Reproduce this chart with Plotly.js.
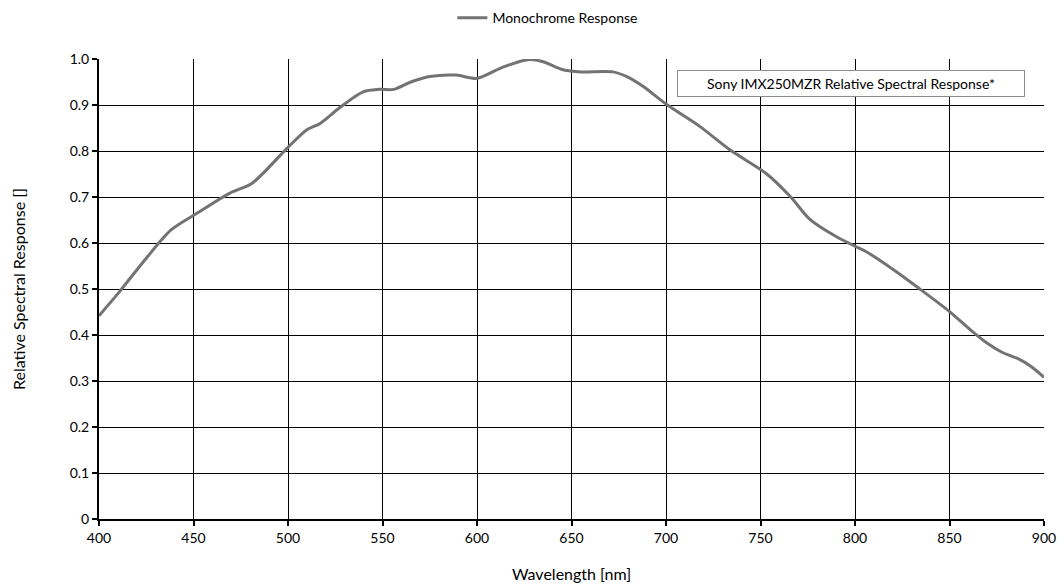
<!DOCTYPE html>
<html><head><meta charset="utf-8">
<script src="https://cdn.plot.ly/plotly-3.0.1.min.js"></script>
<style>html,body{margin:0;padding:0;background:#fff}#c{width:1062px;height:584px}</style>
</head><body><div id="c"></div>
<script>
const wavelength = [400,410,425,438,452,469,481,500,510,517,527,540,548,556,565,575,589,600,614,628,635,646,655,672,679,688,700,718,734,753,766,776,790,800,806,820,834,850,862,870,878,886,893,900];
const response = [0.442,0.49,0.567,0.628,0.665,0.708,0.730,0.808,0.846,0.860,0.893,0.929,0.934,0.934,0.950,0.962,0.965,0.958,0.983,0.999,0.994,0.976,0.972,0.972,0.962,0.94,0.902,0.853,0.802,0.751,0.700,0.652,0.614,0.593,0.581,0.543,0.501,0.451,0.408,0.382,0.362,0.349,0.332,0.308];
const xTicks = [400,450,500,550,600,650,700,750,800,850,900];
const yTicks = [0,0.1,0.2,0.3,0.4,0.5,0.6,0.7,0.8,0.9,1.0];
const yTickText = ["0","0.1","0.2","0.3","0.4","0.5","0.6","0.7","0.8","0.9","1.0"];
const seriesName = "Monochrome Response";
const boxText = "Sony IMX250MZR Relative Spectral Response*";

const font = "Lato, 'Open Sans', sans-serif";
Plotly.newPlot('c', [{
  x: wavelength, y: response, name: seriesName, type: 'scatter', mode: 'lines',
  line: {color: '#737373', width: 3, shape: 'spline', smoothing: 0.8}
}], {
  width: 1062, height: 584,
  margin: {l: 99, r: 18, t: 59, b: 65, autoexpand: false},
  paper_bgcolor: '#fff', plot_bgcolor: '#fff',
  font: {family: font, size: 14, color: '#000'},
  showlegend: true,
  legend: {orientation: 'h', x: 0.475, xanchor: 'center', y: 1.089, yanchor: 'middle', xref: 'paper', yref: 'paper',
    font: {family: font, size: 14, color: '#000'}, itemwidth: 30, bgcolor: 'rgba(0,0,0,0)'},
  xaxis: {range: [400, 900], tickvals: xTicks, ticktext: xTicks.map(String),
    showgrid: true, gridcolor: '#000', gridwidth: 1, zeroline: false,
    showline: true, linecolor: '#000', linewidth: 2, ticks: 'outside', ticklen: 5, tickcolor: '#000', tickwidth: 2,
    tickfont: {family: font, size: 14}, mirror: false,
    title: {text: 'Wavelength [nm]', font: {family: font, size: 16}, standoff: 24}},
  yaxis: {range: [0, 1.0], tickvals: yTicks, ticktext: yTickText,
    showgrid: true, gridcolor: '#000', gridwidth: 1, zeroline: false,
    showline: true, linecolor: '#000', linewidth: 2, ticks: 'outside', ticklen: 5, tickcolor: '#000', tickwidth: 2,
    tickfont: {family: font, size: 14},
    title: {text: 'Relative Spectral Response []', font: {family: font, size: 16}, standoff: 40}},
  annotations: [{
    text: boxText, xref: 'paper', yref: 'paper', x: 0.796, y: 0.946, xanchor: 'center', yanchor: 'middle',
    showarrow: false, font: {family: font, size: 14, color: '#000'},
    bordercolor: '#8c8c8c', borderwidth: 1, borderpad: 4, bgcolor: '#fff', width: 338
  }]
}, {displayModeBar: false, staticPlot: true});
</script></body></html>
